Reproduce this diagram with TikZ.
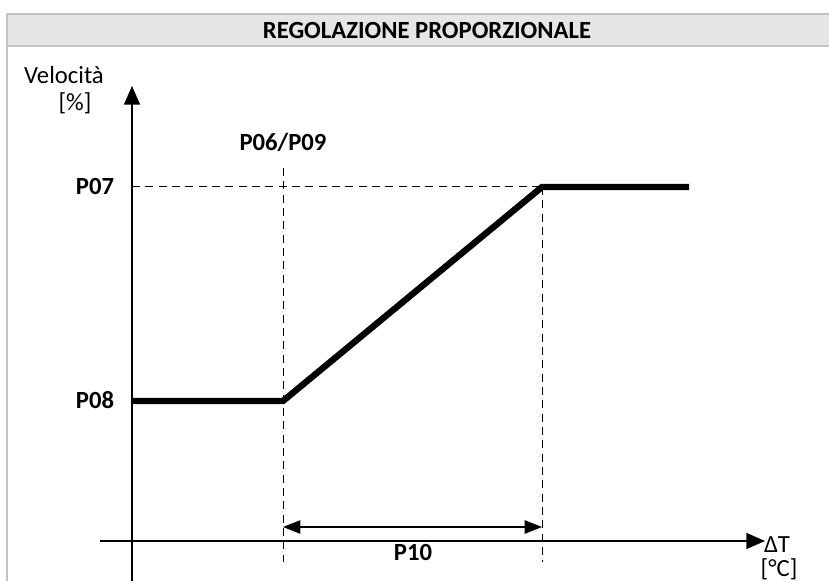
\documentclass[tikz,border=0pt]{standalone}
\usepackage{fontspec}
\setmainfont{Carlito}
\usetikzlibrary{arrows.meta}

\tikzset{every picture/.style={line width=0.75pt}}
\tikzset{
	lbl/.style={inner sep=0.75pt,font=\fontsize{18.5}{21}\selectfont},
	blbl/.style={lbl,font=\fontsize{18.5}{21}\selectfont\bfseries},
	guide/.style={dash pattern={on 6pt off 4pt},line width=0.75pt},
	curve/.style={line width=4.8pt,line join=miter},
	axis/.style={line width=1.1pt,-{Triangle[width=12pt,length=14pt]}},
	dimen/.style={line width=1.1pt,{Triangle[width=10pt,length=13pt]}-{Triangle[width=10pt,length=13pt]}}
}

\begin{document}
\begin{tikzpicture}[x=0.75pt,y=0.75pt,yscale=-1,xscale=1]
	\useasboundingbox (0,0) rectangle (829,581);
	
	%Shape: Title bar
	\draw [draw={rgb,255:red,196;green,196;blue,196},line width=2.2pt,fill={rgb,255:red,230;green,230;blue,230}] (7,14) rectangle (845,46);
	\draw [draw={rgb,255:red,196;green,196;blue,196},line width=1.1pt] (7,46) -- (7,585);
	\node [blbl] (title) at (427,30) {REGOLAZIONE PROPORZIONALE};
	
	%Points
	\coordinate (ybot) at (132,585);
	\coordinate (ytop) at (132,86);
	\coordinate (xl) at (100,541);
	\coordinate (xr) at (765,541);
	\coordinate (p8) at (132,401);
	\coordinate (k1) at (283,401);
	\coordinate (k2) at (542,187);
	\coordinate (p7) at (132,187);
	\coordinate (kend) at (689,187);
	\coordinate (g1top) at (283,168);
	\coordinate (g1bot) at (283,562);
	\coordinate (g2bot) at (542,562);
	\coordinate (d1) at (283,527);
	\coordinate (d2) at (542,527);
	
	%Axes
	\draw [axis] (ybot) -- (ytop);
	\draw [axis] (xl) -- (xr);
	
	%Guides
	\draw [guide] (g1top) -- (g1bot);
	\draw [guide] (k2) -- (g2bot);
	\draw [guide] (p7) -- (k2);
	
	%Curve
	\draw [curve] (p8) -- (k1) -- (k2) -- (kend);
	
	%Dimension
	\draw [dimen] (d1) -- (d2);
	
	% Text Node
	\node [lbl] (vel) at (64,75) {Velocità};
	\node [lbl] (velu) at (75,103) {[\%]};
	\node [blbl] (p0609) at (283,142) {P06/P09};
	\node [blbl] (lp07) at (95,186) {P07};
	\node [blbl] (lp08) at (95,400) {P08};
	\node [blbl] (lp10) at (413,552) {P10};
	\node [lbl] (dt) at (777,545) {ΔT};
	\node [lbl] (dtu) at (779,569) {[°C]};
	
\end{tikzpicture}
\end{document}
